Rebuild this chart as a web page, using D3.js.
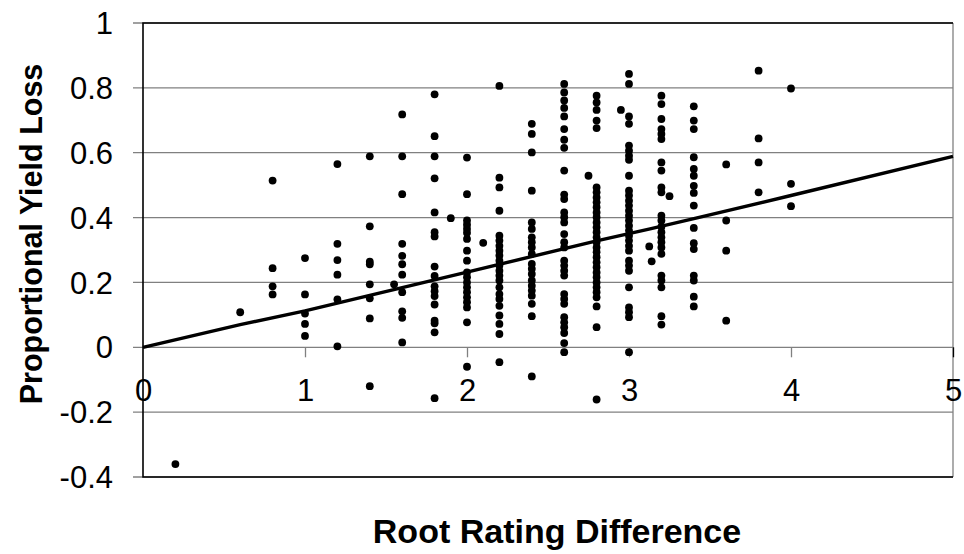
<!DOCTYPE html>
<html>
<head>
<meta charset="utf-8">
<script src="https://cdn.jsdelivr.net/npm/d3@7"></script>
<style>
  html, body { margin: 0; padding: 0; background: #fff; }
  svg { display: block; font-family: "Liberation Sans", Arial, sans-serif; }
</style>
</head>
<body>
<svg id="chart" width="964" height="554"></svg>
<script>
// root rating difference columns and the yield loss values read in each one
const columnX = [0.2, 0.6, 0.8, 1.0, 1.2, 1.4, 1.55, 1.6, 1.8, 1.9, 2.0, 2.1, 2.2, 2.4, 2.6,
  2.75, 2.8, 2.95, 3.0, 3.125, 3.14, 3.2, 3.25, 3.4, 3.6, 3.8, 4.0];
const columnY = [
  [-0.36],
  [0.108],
  [0.514, 0.244, 0.188, 0.163],
  [0.275, 0.163, 0.104, 0.072, 0.035],
  [0.565, 0.319, 0.269, 0.224, 0.148, 0.003],
  [0.589, 0.373, 0.264, 0.256, 0.194, 0.151, 0.089, -0.120],
  [0.194],
  [0.718, 0.589, 0.472, 0.319, 0.282, 0.256, 0.224, 0.170, 0.111, 0.091, 0.015],
  [0.780, 0.651, 0.589, 0.521, 0.416, 0.355, 0.342, 0.249, 0.220, 0.188, 0.173, 0.158,
    0.132, 0.082, 0.074, 0.046, -0.157],
  [0.398],
  [0.585, 0.472, 0.391, 0.378, 0.365, 0.353, 0.334, 0.298, 0.267, 0.231, 0.216, 0.200,
    0.185, 0.170, 0.154, 0.139, 0.123, 0.077, -0.060],
  [0.322],
  [0.806, 0.523, 0.493, 0.421, 0.344, 0.329, 0.313, 0.298, 0.283, 0.267, 0.252, 0.236,
    0.221, 0.206, 0.185, 0.164, 0.149, 0.128, 0.098, 0.072, 0.041, -0.046],
  [0.689, 0.658, 0.601, 0.483, 0.385, 0.365, 0.339, 0.324, 0.308, 0.288, 0.257, 0.242,
    0.226, 0.206, 0.190, 0.175, 0.159, 0.134, 0.096, -0.090],
  [0.812, 0.786, 0.761, 0.738, 0.712, 0.673, 0.640, 0.615, 0.545, 0.471, 0.457, 0.416,
    0.401, 0.385, 0.349, 0.324, 0.308, 0.267, 0.252, 0.236, 0.221, 0.164, 0.149, 0.134,
    0.093, 0.077, 0.062, 0.044, 0.013, -0.015],
  [0.529],
  [0.776, 0.755, 0.732, 0.699, 0.676, 0.493, 0.478, 0.462, 0.447, 0.432, 0.416, 0.401,
    0.385, 0.370, 0.355, 0.339, 0.324, 0.308, 0.293, 0.278, 0.262, 0.247, 0.231, 0.216,
    0.200, 0.185, 0.170, 0.154, 0.126, 0.062, -0.161],
  [0.732],
  [0.843, 0.812, 0.712, 0.689, 0.622, 0.606, 0.591, 0.578, 0.529, 0.483, 0.468, 0.452,
    0.437, 0.421, 0.406, 0.391, 0.375, 0.360, 0.344, 0.329, 0.313, 0.298, 0.267, 0.252,
    0.236, 0.185, 0.123, 0.108, 0.093, -0.015],
  [0.311],
  [0.265],
  [0.776, 0.750, 0.704, 0.673, 0.658, 0.642, 0.570, 0.545, 0.493, 0.478, 0.406, 0.391,
    0.372, 0.355, 0.339, 0.324, 0.308, 0.288, 0.221, 0.206, 0.185, 0.096, 0.070],
  [0.466],
  [0.743, 0.699, 0.673, 0.586, 0.550, 0.529, 0.498, 0.476, 0.437, 0.368, 0.321, 0.303,
    0.221, 0.206, 0.156, 0.126],
  [0.564, 0.391, 0.298, 0.082],
  [0.853, 0.644, 0.570, 0.478],
  [0.798, 0.504, 0.435]
];

// fitted trend line
const fitX = [0, 0.6, 1.0, 2.0, 2.8, 3.13, 3.42, 4.0, 5.0];
const fitY = [0, 0.07, 0.112, 0.232, 0.328, 0.365, 0.399, 0.468, 0.589];

const xTicks = [0, 1, 2, 3, 4, 5];
const yTicks = [1, 0.8, 0.6, 0.4, 0.2, 0, -0.2, -0.4];

const points = [];
columnX.forEach((x, i) => columnY[i].forEach(y => points.push({ x, y })));

const svg = d3.select('#chart');
const margin = { left: 143, right: 11, top: 23, bottom: 77 };
const W = 964, H = 554;
const x = d3.scaleLinear().domain([0, 5]).range([margin.left, W - margin.right]);
const y = d3.scaleLinear().domain([-0.4, 1]).range([H - margin.bottom, margin.top]);

// horizontal gridlines, extended left as the tick marks
svg.append('g').selectAll('line').data(yTicks).join('line')
  .attr('x1', margin.left - 10).attr('x2', x(5))
  .attr('y1', d => y(d)).attr('y2', d => y(d))
  .attr('stroke', '#808080').attr('stroke-width', 1.3);

// plot frame: right side gray, the others black
svg.append('line').attr('x1', x(5)).attr('x2', x(5)).attr('y1', y(1)).attr('y2', y(-0.4))
  .attr('stroke', '#808080').attr('stroke-width', 1.3);
svg.append('path')
  .attr('d', `M${x(5)},${y(1)}H${x(0)}V${y(-0.4)}H${x(5)}`)
  .attr('fill', 'none').attr('stroke', '#000').attr('stroke-width', 1.6);

// x axis sits on y = 0
const xAxis = svg.append('g').attr('transform', `translate(0,${y(0)})`)
  .call(d3.axisBottom(x).tickValues(xTicks).tickSize(10).tickPadding(22).tickFormat(d3.format('d')));
xAxis.select('.domain').remove();
xAxis.selectAll('.tick line').attr('stroke', (d) => d === 5 ? '#000' : '#808080').attr('stroke-width', 1.3)
  .attr('display', d => d === 0 ? 'none' : null);
xAxis.selectAll('.tick text').attr('font-size', 31).attr('fill', '#000')
  .attr('font-family', '"Liberation Sans", Arial, sans-serif');

// y tick labels (plain hyphen for negatives, as in the original)
svg.append('g').selectAll('text').data(yTicks).join('text')
  .attr('x', 113).attr('y', d => y(d)).attr('dy', '0.36em')
  .attr('text-anchor', 'end').attr('font-size', 31)
  .text(d => String(d));

// scatter
svg.append('g').selectAll('circle').data(points).join('circle')
  .attr('cx', d => x(d.x)).attr('cy', d => y(d.y)).attr('r', 3.9).attr('fill', '#000');

// trend line
svg.append('path')
  .datum(fitX.map((v, i) => [v, fitY[i]]))
  .attr('d', d3.line().x(d => x(d[0])).y(d => y(d[1])))
  .attr('fill', 'none').attr('stroke', '#000').attr('stroke-width', 3.4);

// axis titles
svg.append('text').attr('x', 557).attr('y', 543).attr('text-anchor', 'middle')
  .attr('font-size', 34).attr('font-weight', 'bold').text('Root Rating Difference');
svg.append('text').attr('transform', 'translate(42,234) rotate(-90)').attr('text-anchor', 'middle')
  .attr('font-size', 30.5).attr('font-weight', 'bold').text('Proportional Yield Loss');
</script>
</body>
</html>
